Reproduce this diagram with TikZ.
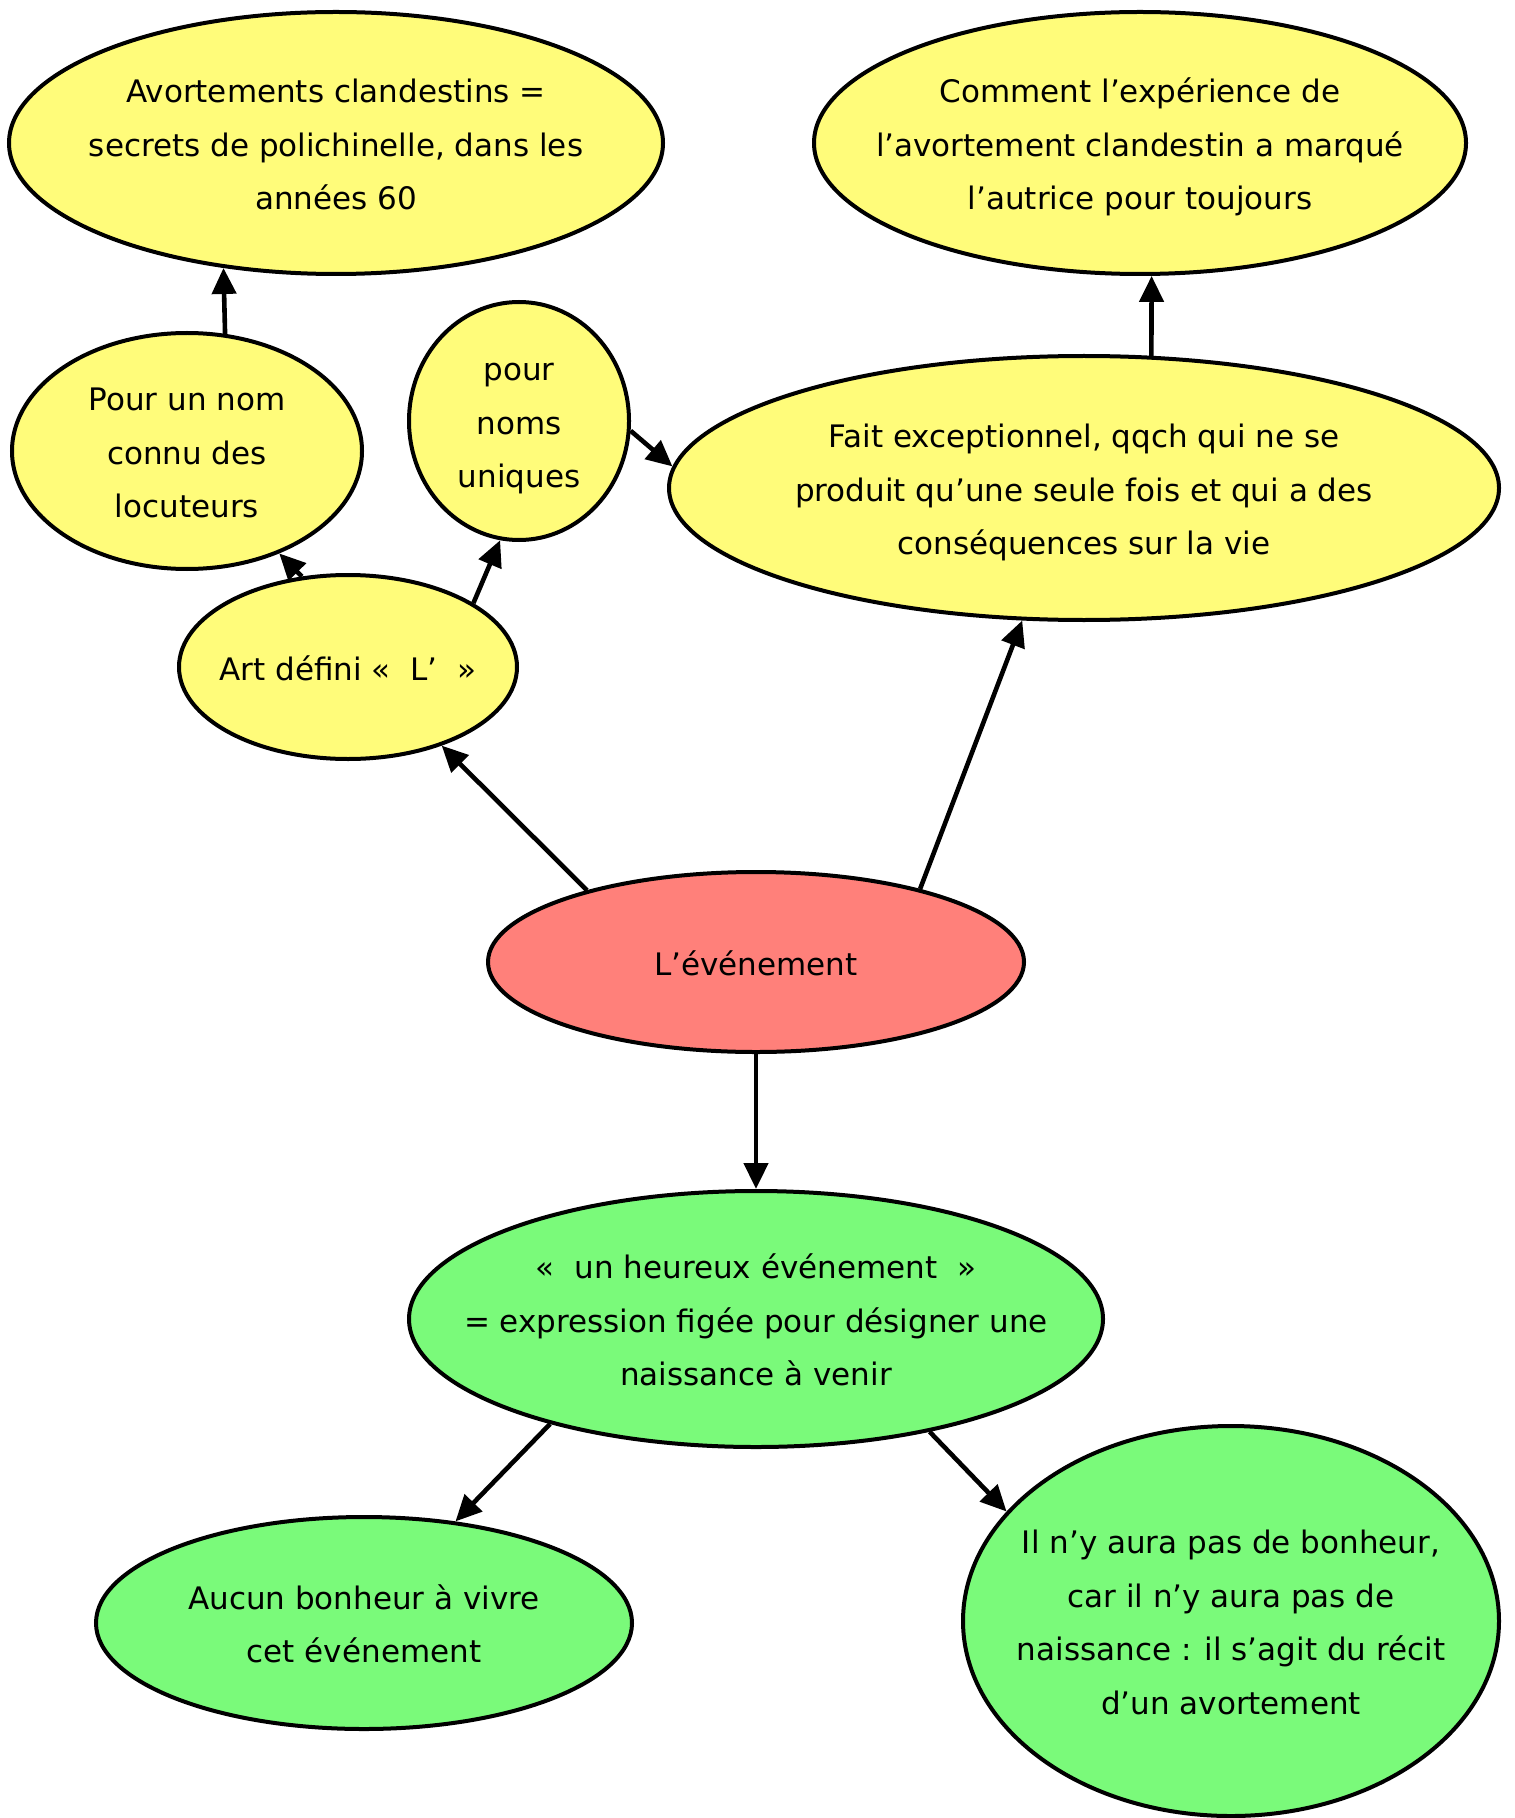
\documentclass[tikz,border=0pt]{standalone}
\usepackage{fontspec}
\setmainfont{DejaVu Sans}
\usetikzlibrary{shapes.geometric, arrows.meta, positioning}
\usepackage{xcolor}

\definecolor{bulleJaune}{RGB}{255,252,122}
\definecolor{bulleRouge}{RGB}{255,128,122}
\definecolor{bulleVerte}{RGB}{122,250,122}

% texte centre sans agrandir la bulle
\newcommand{\bulletxt}[1]{\makebox[0pt]{\raisebox{-4.8pt}[0pt][0pt]{\begin{tabular}{@{}c@{}}#1\end{tabular}}}}

\begin{document}
\begin{tikzpicture}[
    x=0.5pt, y=-0.5pt,
    bulle/.style={ellipse, draw=black, line width=2pt, inner sep=0pt,
                  font=\fontsize{15.5}{26.7}\selectfont},
    jaune/.style={bulle, fill=bulleJaune},
    rouge/.style={bulle, fill=bulleRouge},
    verte/.style={bulle, fill=bulleVerte},
    arr/.style={-{Triangle[length=13pt, width=12pt]}, line width=2.3pt}
]
\useasboundingbox (0,0) rectangle (1514,1818);

\node[jaune, minimum width=327pt, minimum height=131pt] (avort) at (336,143)
    {\bulletxt{Avortements clandestins =\\secrets de polichinelle, dans les\\années 60}};
\node[jaune, minimum width=326pt, minimum height=131pt] (comment) at (1140,143)
    {\bulletxt{Comment l’expérience de\\l’avortement clandestin a marqué\\l’autrice pour toujours}};
\node[jaune, minimum width=175pt, minimum height=118pt] (connu) at (187,451)
    {\bulletxt{Pour un nom\\connu des\\locuteurs}};
\node[jaune, minimum width=110pt, minimum height=119pt] (uniques) at (519,421)
    {\bulletxt{pour\\noms\\uniques}};
\node[jaune, minimum width=415pt, minimum height=132pt] (fait) at (1084,488)
    {\bulletxt{Fait exceptionnel, qqch qui ne se\\produit qu’une seule fois et qui a des\\conséquences sur la vie}};
\node[jaune, minimum width=169pt, minimum height=92pt] (art) at (348,667)
    {\bulletxt{Art défini «~~L’~~»}};

\node[rouge, minimum width=268pt, minimum height=90pt] (ev) at (756,962) {\bulletxt{L’événement}};

\node[verte, minimum width=347pt, minimum height=128pt] (heureux) at (756,1319)
    {\bulletxt{«~~un heureux événement~~»\\= expression figée pour désigner une\\naissance à venir}};
\node[verte, minimum width=268pt, minimum height=106pt] (aucun) at (364,1623)
    {\bulletxt{Aucun bonheur à vivre\\cet événement}};
\node[verte, minimum width=268pt, minimum height=195pt] (naissance) at (1231,1621)
    {\bulletxt{Il n’y aura pas de bonheur,\\car il n’y aura pas de\\naissance : il s’agit du récit\\d’un avortement}};

\draw[arr] (connu.72) -- (avort.228);
\draw[arr] (art.117) -- (connu.-48);
\draw[arr] (art.27) -- (uniques.261);
\draw[arr] (uniques.-5) -- (fait.177.5);
\draw[arr] (fait.63.4) -- (comment.275);

\draw[arr] (ev.157) -- (art.-40);
\draw[arr] (ev.24.5) -- (fait.245);
\draw[arr] (ev) -- (heureux);

\draw[arr] (heureux.207) -- (aucun.48.6);
\draw[arr] (heureux.-33.8) -- (naissance.154.6);
\end{tikzpicture}
\end{document}
